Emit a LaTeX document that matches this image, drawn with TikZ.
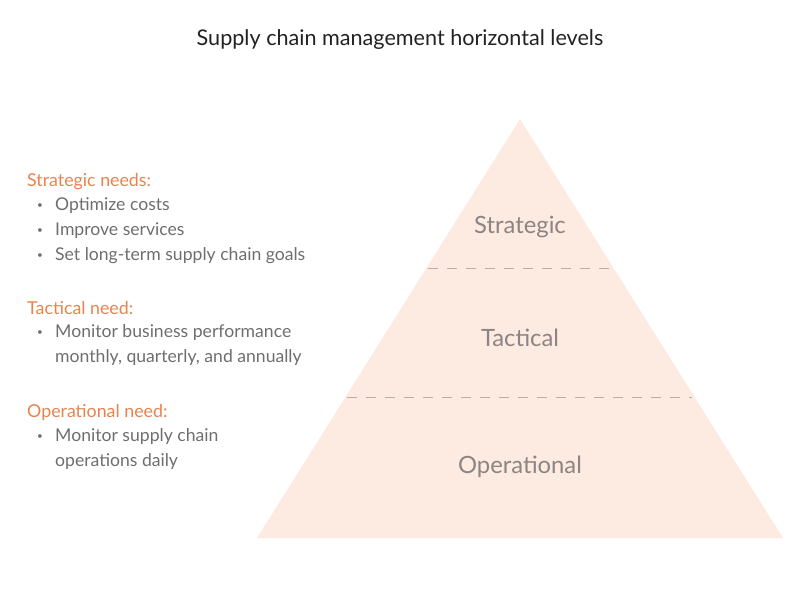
\documentclass[tikz,border=0pt]{standalone}
\usepackage{fontspec}
\setmainfont{Lato}
\definecolor{peach}{HTML}{FDEAE1}
\definecolor{headorange}{HTML}{E8834E}
\definecolor{bodygray}{HTML}{6E6E6E}
\definecolor{levelgray}{HTML}{8C8583}
\definecolor{dashgray}{HTML}{B5AEAB}
\definecolor{titlecol}{HTML}{222222}
\tikzset{
  heading/.style={anchor=west, inner sep=0pt, text=headorange, font=\fontsize{17.8}{21}\selectfont},
  bodytext/.style={anchor=west, inner sep=0pt, text=bodygray, font=\fontsize{17.6}{21}\selectfont},
  bulletmark/.style={anchor=west, inner sep=0pt, text=bodygray, font=\fontsize{10}{12}\selectfont},
  levellabel/.style={inner sep=0pt, text=levelgray, font=\fontsize{23.8}{28}\selectfont},
  divider/.style={dashgray, line width=1pt, dash pattern=on 10pt off 9pt},
}
\begin{document}
\begin{tikzpicture}[x=1pt,y=-1pt]
\useasboundingbox (0,0) rectangle (800,600);
% title
\node[inner sep=0pt, text=titlecol, font=\fontsize{21.6}{25}\selectfont] (title) at (400,40) {Supply chain management horizontal levels};
% pyramid
\coordinate (apex) at (520,119);
\coordinate (bl) at (257,538);
\coordinate (br) at (783,538);
\fill[peach] (apex) -- (br) -- (bl) -- cycle;
\coordinate (d1l) at (428,268);
\coordinate (d1r) at (612,268);
\coordinate (d2l) at (347,397);
\coordinate (d2r) at (692,397);
\draw[divider] (d1l) -- (d1r);
\draw[divider] (d2l) -- (d2r);
\node[levellabel] (strat) at (520,227) {Strategic};
\node[levellabel] (tact) at (520,338) {Tactical};
\node[levellabel] (oper) at (520,467) {Operational};
% left text
\node[heading] (h1) at (27,182) {Strategic needs:};
\node[bulletmark] (b1) at (37,206) {•};
\node[bodytext] (t1) at (55,206) {Optimize costs};
\node[bulletmark] (b2) at (37,231) {•};
\node[bodytext] (t2) at (55,231) {Improve services};
\node[bulletmark] (b3) at (37,256) {•};
\node[bodytext] (t3) at (55,256) {Set long-term supply chain goals};
\node[heading] (h2) at (27,308) {Tactical need:};
\node[bulletmark] (b4) at (37,333) {•};
\node[bodytext] (t4) at (55,333) {Monitor business performance};
\node[bodytext] (t5) at (55,358) {monthly, quarterly, and annually};
\node[heading] (h3) at (27,412) {Operational need:};
\node[bulletmark] (b5) at (37,437) {•};
\node[bodytext] (t6) at (55,437) {Monitor supply chain};
\node[bodytext] (t7) at (55,462) {operations daily};
\end{tikzpicture}
\end{document}
